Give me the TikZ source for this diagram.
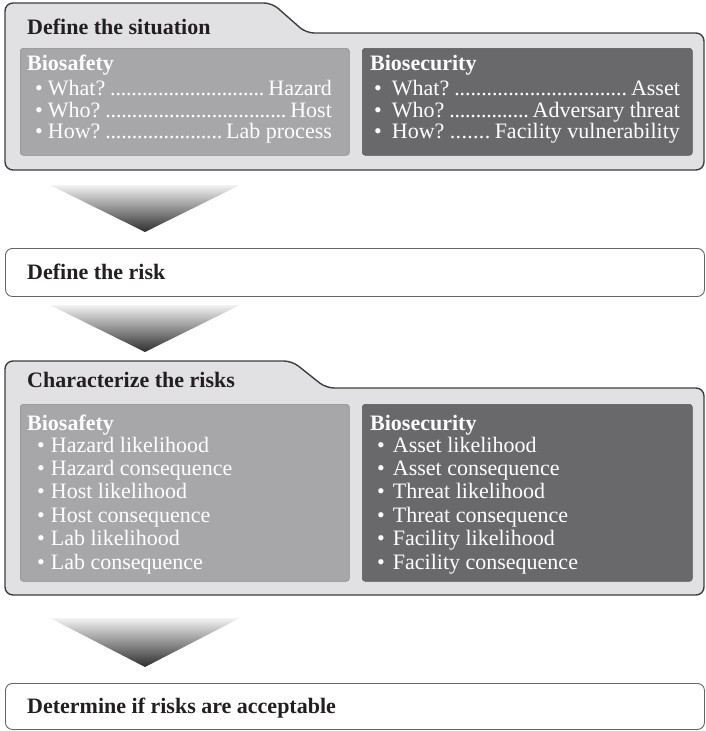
\documentclass[tikz,border=0pt]{standalone}
\usepackage{fontspec}
\setmainfont{Liberation Serif}
\definecolor{panelfill}{HTML}{E1E1E3}
\definecolor{panelline}{HTML}{3E3E40}
\definecolor{safefill}{HTML}{A7A7AA}
\definecolor{securefill}{HTML}{69696C}
\definecolor{inktext}{HTML}{231F20}
\definecolor{chevtop}{HTML}{F2F2F2}
\definecolor{chevbot}{HTML}{2E2E2E}
% dotted leader between a question and its answer
\newcommand\leadrow[3]{\hbox to #1{#2\hspace{5pt}\xleaders\hbox to 0.24em{\hss.\hss}\hfill\hspace{4pt}#3}}
\begin{document}
\begin{tikzpicture}[x=1pt,y=-1pt,
  panel/.style={fill=panelfill,draw=panelline,line width=1.4pt,rounded corners=8pt},
  stepbar/.style={fill=white,draw=panelline!80,line width=0.9pt,rounded corners=7pt},
  safebox/.style={fill=safefill,draw=safefill!85!black,line width=0.6pt,rounded corners=3pt},
  securebox/.style={fill=securefill,draw=securefill!85!black,line width=0.6pt,rounded corners=3pt},
  headtext/.style={anchor=base west,inner sep=0pt,text=inktext,font=\fontsize{22}{24}\selectfont\bfseries},
  boxhead/.style={anchor=base west,inner sep=0pt,text=white,font=\fontsize{22}{24}\selectfont\bfseries},
  itemtext/.style={anchor=base west,inner sep=0pt,text=white,font=\fontsize{22}{24}\selectfont},
  chevron/.style={top color=chevtop,bottom color=chevbot}
]
\useasboundingbox (0,0) rectangle (706,731);

% ---- Define the situation ----
\draw[panel] (5,170) -- (5,3) -- (272,3) -- (306,33) -- (704,33) -- (704,170) -- cycle;
\node[safebox,minimum width=329pt,minimum height=107pt,anchor=north west] (sit-safe) at (20,48) {};
\node[securebox,minimum width=330pt,minimum height=107pt,anchor=north west] (sit-secure) at (362,48) {};
\node[headtext] (sit-title) at (27,34) {Define the situation};
\node[boxhead] (sit-safe-head) at (27,70) {Biosafety};
\node[itemtext] (sit-safe-1) at (35,95) {\textbullet\hspace{5pt}\leadrow{284pt}{What?}{Hazard}};
\node[itemtext] (sit-safe-2) at (35,117) {\textbullet\hspace{5pt}\leadrow{284pt}{Who?}{Host}};
\node[itemtext] (sit-safe-3) at (35,138) {\textbullet\hspace{5pt}\leadrow{284pt}{How?}{Lab process}};
\node[boxhead] (sit-secure-head) at (370,70) {Biosecurity};
\node[itemtext] (sit-secure-1) at (374,95) {\textbullet\hspace{10pt}\leadrow{288pt}{What?}{Asset}};
\node[itemtext] (sit-secure-2) at (374,117) {\textbullet\hspace{10pt}\leadrow{288pt}{Who?}{Adversary threat}};
\node[itemtext] (sit-secure-3) at (374,138) {\textbullet\hspace{10pt}\leadrow{288pt}{How?}{Facility vulnerability}};

% ---- chevron 1 ----
\shade[chevron] (50,185) -- (240,185) -- (145,232) -- cycle;

% ---- Define the risk ----
\node[stepbar,minimum width=699pt,minimum height=48pt,anchor=north west] (risk) at (5,248) {};
\node[headtext] (risk-title) at (27,279) {Define the risk};

% ---- chevron 2 ----
\shade[chevron] (50,305) -- (240,305) -- (145,352) -- cycle;

% ---- Characterize the risks ----
\draw[panel] (5,595) -- (5,361) -- (292,361) -- (326,388) -- (704,388) -- (704,595) -- cycle;
\node[safebox,minimum width=329pt,minimum height=177pt,anchor=north west] (char-safe) at (20,404) {};
\node[securebox,minimum width=330pt,minimum height=177pt,anchor=north west] (char-secure) at (362,404) {};
\node[headtext] (char-title) at (27,387) {Characterize the risks};
\node[boxhead] (char-safe-head) at (27,430) {Biosafety};
\node[boxhead] (char-secure-head) at (370,430) {Biosecurity};
\foreach \txt [count=\i] in {Hazard likelihood,Hazard consequence,Host likelihood,Host consequence,Lab likelihood,Lab consequence}
  \node[itemtext] (char-safe-\i) at (37,{452+23.4*(\i-1)}) {\textbullet\hspace{6pt}\txt};
\foreach \txt [count=\i] in {Asset likelihood,Asset consequence,Threat likelihood,Threat consequence,Facility likelihood,Facility consequence}
  \node[itemtext] (char-secure-\i) at (377,{452+23.4*(\i-1)}) {\textbullet\hspace{8pt}\txt};

% ---- chevron 3 ----
\shade[chevron] (50,618) -- (240,618) -- (145,667) -- cycle;

% ---- Determine if risks are acceptable ----
\node[stepbar,minimum width=699pt,minimum height=46pt,anchor=north west] (accept) at (5,683) {};
\node[headtext] (accept-title) at (27,713) {Determine if risks are acceptable};
\end{tikzpicture}
\end{document}
